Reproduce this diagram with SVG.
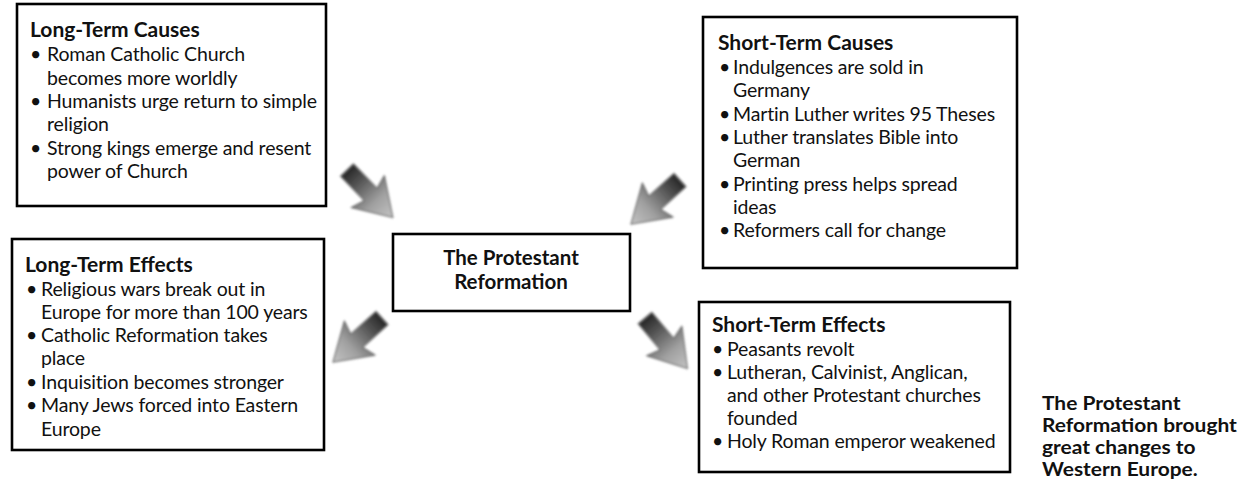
<svg xmlns="http://www.w3.org/2000/svg" width="1251" height="482" viewBox="0 0 1251 482">
<style>
.box{fill:#fff;stroke:#000;stroke-width:2.6}
.t{font-family:Lato,"Open Sans",sans-serif;font-size:19.5px;letter-spacing:-0.15px;fill:#111}
.h{font-family:Lato,"Open Sans",sans-serif;font-size:21px;font-weight:bold;fill:#111}
.m{font-family:Lato,"Open Sans",sans-serif;font-size:20.5px;font-weight:bold;fill:#111}
.c{font-family:Lato,"Open Sans",sans-serif;font-size:18.2px;font-weight:bold;fill:#111}
</style>
<defs>
<linearGradient id="ag" gradientUnits="userSpaceOnUse" x1="0" y1="0" x2="66" y2="0">
<stop offset="0" stop-color="#262626"/>
<stop offset="0.3" stop-color="#5c5c5c"/>
<stop offset="0.65" stop-color="#a0a0a0"/>
<stop offset="1" stop-color="#c4c4c4"/>
</linearGradient>
<filter id="soft" x="-20%" y="-20%" width="140%" height="140%"><feGaussianBlur stdDeviation="1"/></filter>
<path id="arrow" d="M0,-9 L34,-9 L30,-23 L66,0 L30,23 L34,9 L0,9 Z" fill="url(#ag)" stroke="#707070" stroke-width="1.2" stroke-linejoin="round" filter="url(#soft)"/>
</defs>
<rect width="1251" height="482" fill="#fff"/>

<g id="connectors">
<use href="#arrow" transform="translate(347,170) rotate(46)"/>
<use href="#arrow" transform="translate(680,180) rotate(138)"/>
<use href="#arrow" transform="translate(382,318) rotate(138)"/>
<use href="#arrow" transform="translate(645,318) rotate(50)"/>
</g>

<g id="long-term-causes">
<rect class="box" x="17" y="4" width="309" height="202"/>
<text class="h" x="30" y="37">Long-Term Causes</text>
<text class="t" x="30" y="61">•</text><text class="t" x="47" y="61">Roman Catholic Church</text>
<text class="t" x="47" y="85">becomes more worldly</text>
<text class="t" x="30" y="108">•</text><text class="t" x="47" y="108">Humanists urge return to simple</text>
<text class="t" x="47" y="131">religion</text>
<text class="t" x="30" y="155">•</text><text class="t" x="47" y="155">Strong kings emerge and resent</text>
<text class="t" x="47" y="178">power of Church</text>
</g>

<g id="short-term-causes">
<rect class="box" x="703" y="17" width="314" height="251"/>
<text class="h" x="718" y="50">Short-Term Causes</text>
<text class="t" x="719" y="74">•</text><text class="t" x="733" y="74">Indulgences are sold in</text>
<text class="t" x="733" y="97">Germany</text>
<text class="t" x="719" y="121">•</text><text class="t" x="733" y="121">Martin Luther writes 95 Theses</text>
<text class="t" x="719" y="144">•</text><text class="t" x="733" y="144">Luther translates Bible into</text>
<text class="t" x="733" y="167">German</text>
<text class="t" x="719" y="191">•</text><text class="t" x="733" y="191">Printing press helps spread</text>
<text class="t" x="733" y="214">ideas</text>
<text class="t" x="719" y="237">•</text><text class="t" x="733" y="237">Reformers call for change</text>
</g>

<g id="center">
<rect class="box" x="393" y="234" width="237" height="77"/>
<text class="m" x="511" y="265" text-anchor="middle">The Protestant</text>
<text class="m" x="511" y="289" text-anchor="middle">Reformation</text>
</g>

<g id="long-term-effects">
<rect class="box" x="12" y="239" width="312" height="211"/>
<text class="h" x="25" y="272">Long-Term Effects</text>
<text class="t" x="26" y="296">•</text><text class="t" x="41" y="296">Religious wars break out in</text>
<text class="t" x="41" y="319">Europe for more than 100 years</text>
<text class="t" x="26" y="342">•</text><text class="t" x="41" y="342">Catholic Reformation takes</text>
<text class="t" x="41" y="365">place</text>
<text class="t" x="26" y="389">•</text><text class="t" x="41" y="389">Inquisition becomes stronger</text>
<text class="t" x="26" y="412">•</text><text class="t" x="41" y="412">Many Jews forced into Eastern</text>
<text class="t" x="41" y="436">Europe</text>
</g>

<g id="short-term-effects">
<rect class="box" x="699" y="302" width="311" height="170"/>
<text class="h" x="712" y="332">Short-Term Effects</text>
<text class="t" x="712" y="356">•</text><text class="t" x="727" y="356">Peasants revolt</text>
<text class="t" x="712" y="379">•</text><text class="t" x="727" y="379">Lutheran, Calvinist, Anglican,</text>
<text class="t" x="727" y="402">and other Protestant churches</text>
<text class="t" x="727" y="425">founded</text>
<text class="t" x="712" y="448">•</text><text class="t" x="727" y="448">Holy Roman emperor weakened</text>
</g>

<g id="caption" transform="translate(1042,0) scale(1.15,1)">
<text class="c" x="0" y="410">The Protestant</text>
<text class="c" x="0" y="432">Reformation brought</text>
<text class="c" x="0" y="454">great changes to</text>
<text class="c" x="0" y="476">Western Europe.</text>
</g>
</svg>
